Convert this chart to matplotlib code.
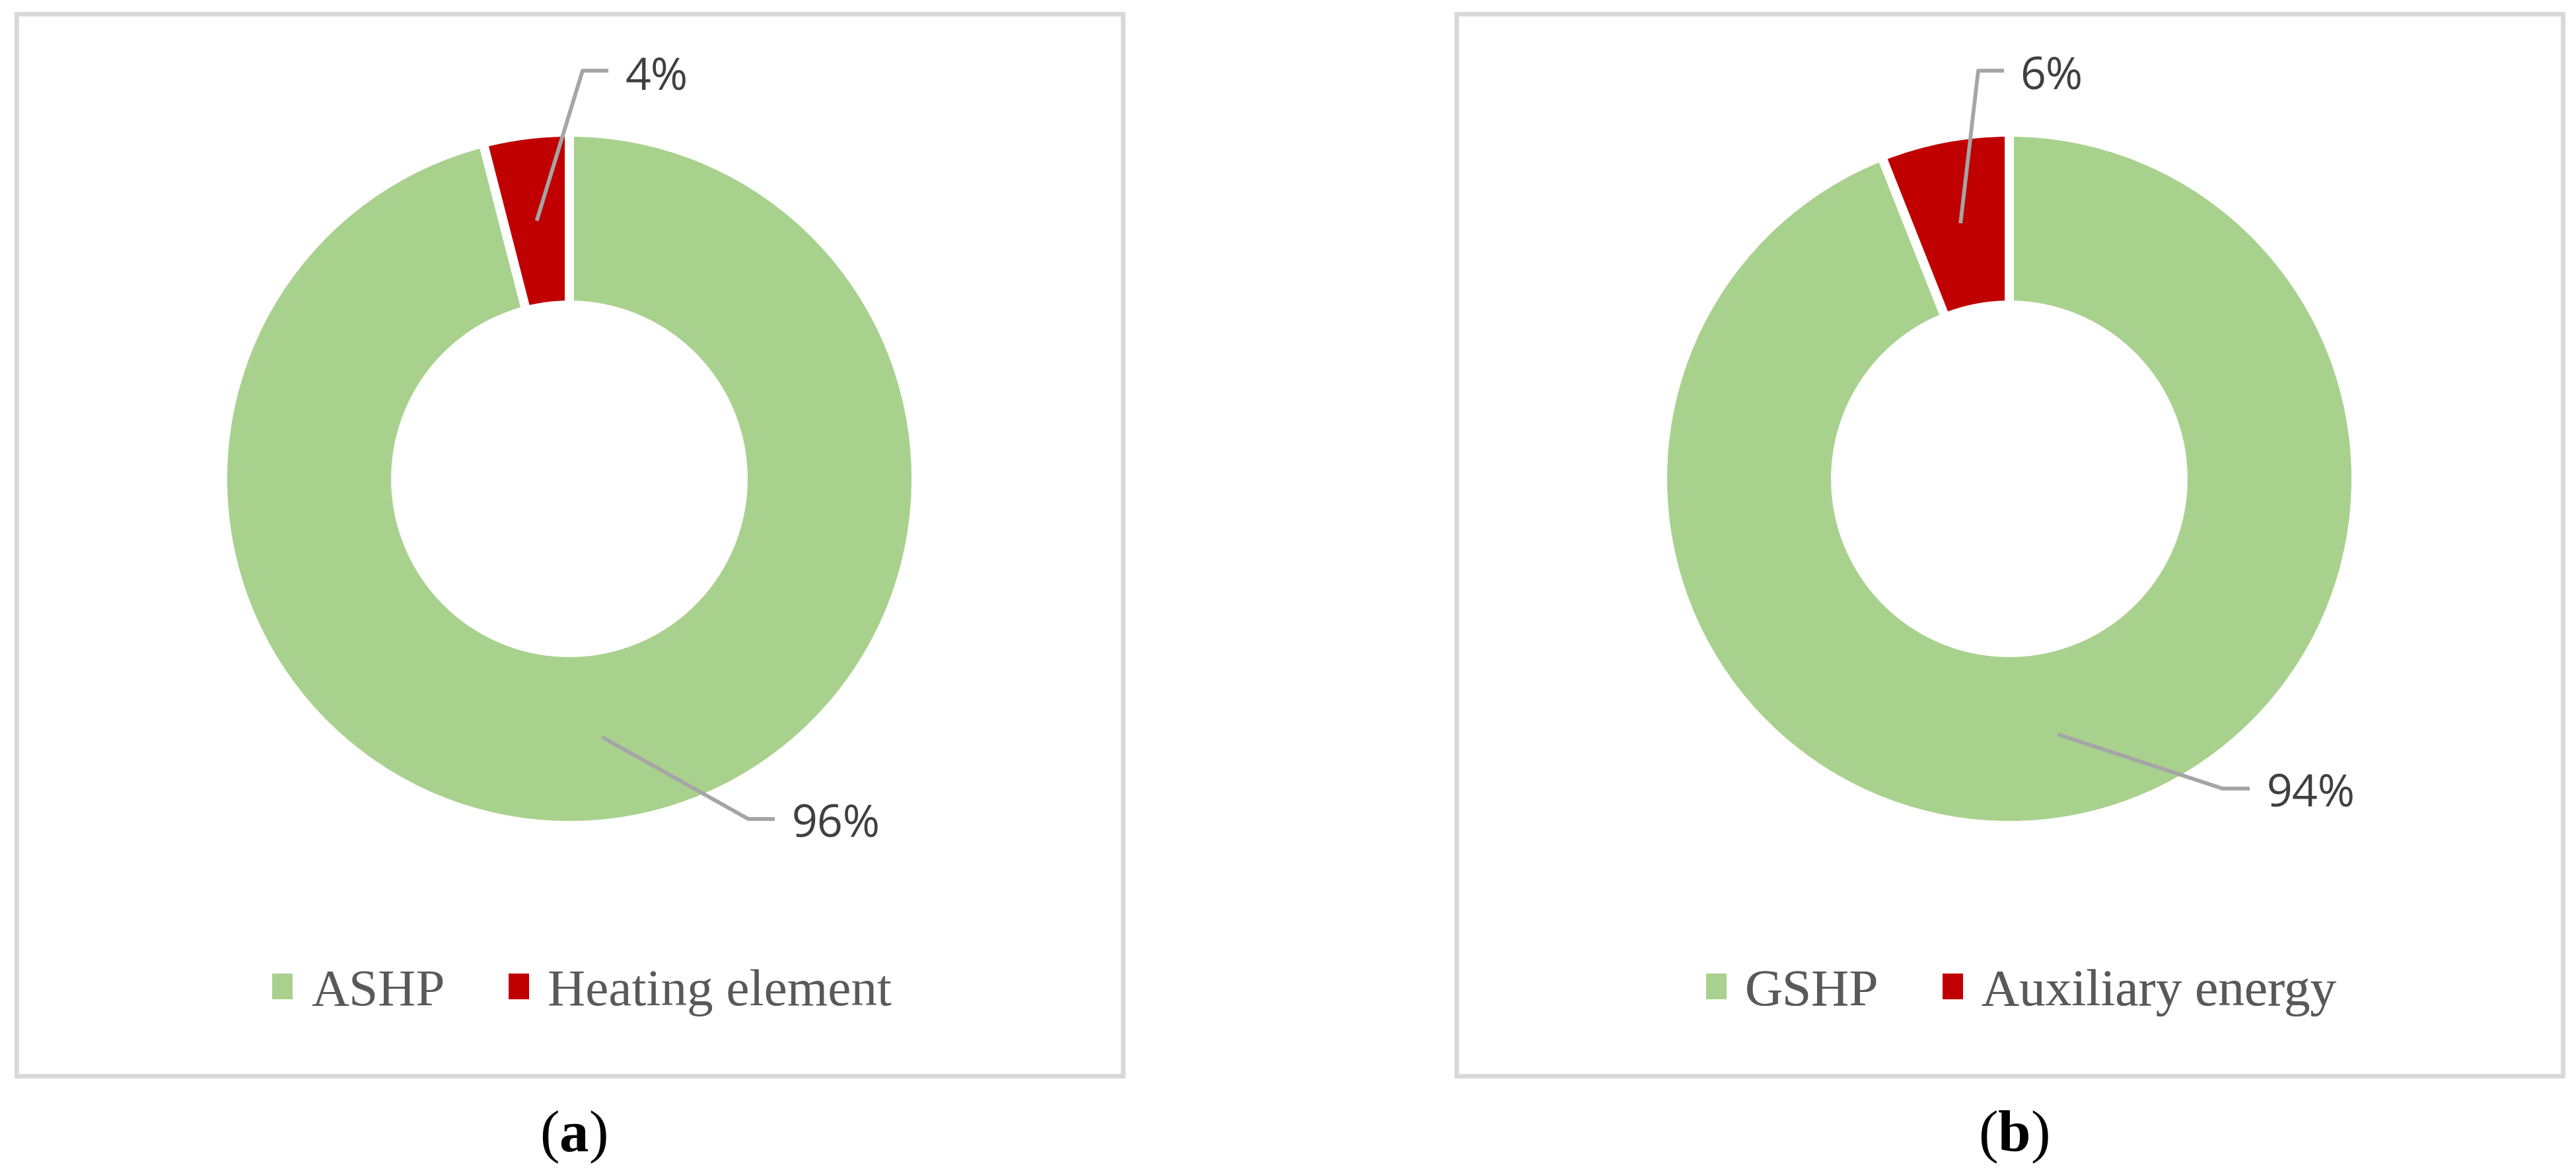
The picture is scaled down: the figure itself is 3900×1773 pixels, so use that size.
import numpy as np
import matplotlib
matplotlib.use("Agg")
import matplotlib.pyplot as plt
from matplotlib.patches import Rectangle, Patch

# shares in percent, as printed on the chart
shares_a = [96, 4]
names_a = ["ASHP", "Heating element"]
shares_b = [94, 6]
names_b = ["GSHP", "Auxiliary energy"]
captions = ["a", "b"]

GREEN = "#A9D18E"
RED = "#C00000"
LEADER = "#A5A5A5"
BORDER = "#D9D9D9"

W, H = 3900, 1773
CY = 725          # donut centre (pixels from top)
R = 525           # outer radius incl. white edge
RING = 262        # ring width
RMID = R - RING / 2

plt.rcParams["mathtext.fontset"] = "custom"
plt.rcParams["mathtext.rm"] = "Liberation Serif"
plt.rcParams["mathtext.bf"] = "Liberation Serif:bold"


def py(y):
    # pixel row (from top) -> data y
    return H - y


def draw_panel(ax, shares, names, caption, cx, box_left, spots, legend_cx):
    # panel frame
    ax.add_patch(Rectangle((box_left + 3.5, py(1628.5)), 1675, 1608,
                           facecolor="none", edgecolor=BORDER, lw=5, zorder=1))

    wedges, _ = ax.pie(shares, colors=[GREEN, RED], startangle=90,
                       counterclock=False, radius=R, center=(cx, py(CY)),
                       wedgeprops=dict(width=RING, edgecolor="white", linewidth=10),
                       frame=True)

    # data labels with leader lines
    for w, share, (bx, by, ex, tx, base) in zip(wedges, shares, spots):
        ang = np.deg2rad((w.theta1 + w.theta2) / 2)
        sx = cx + RMID * np.cos(ang)
        sy = py(CY) + RMID * np.sin(ang)
        ax.plot([sx, bx, ex], [sy, py(by), py(by)], color=LEADER, lw=4.2,
                solid_capstyle="butt", solid_joinstyle="round", zorder=5)
        ax.text(tx, py(base), f"{share}%", ha="left", va="baseline",
                fontsize=49, color="#404040", family="Open Sans", zorder=6)

    handles = [Patch(facecolor=c, edgecolor="none", label=n)
               for c, n in zip([GREEN, RED], names)]
    leg = ax.legend(handles=handles, loc="center",
                    bbox_to_anchor=(legend_cx, py(1503)), bbox_transform=ax.transData,
                    ncol=2, frameon=False, borderpad=0, borderaxespad=0,
                    prop=dict(family="Liberation Serif", size=57),
                    handlelength=0.39, handleheight=0.39, handletextpad=0.35,
                    columnspacing=1.22, labelcolor="#595959")
    ax.add_artist(leg)

    ax.text(cx + 6, py(1743), rf"($\mathbf{{{caption}}}$)", ha="center",
            va="baseline", fontsize=64, color="black", family="Liberation Serif")


fig = plt.figure(figsize=(W / 100, H / 100), dpi=100)
ax = fig.add_axes([0, 0, 1, 1])

# label spots: bend x, bend y, line end x, text x, text baseline (pixels)
spots_a = [(1133, 1240, 1173, 1199, 1267), (882, 107, 921, 947, 135)]
spots_b = [(3365, 1194, 3406, 3432, 1221), (2995, 107, 3034, 3058, 135)]

draw_panel(ax, shares_a, names_a, captions[0], 862, 21, spots_a, 881)
draw_panel(ax, shares_b, names_b, captions[1], 3042, 2201, spots_b, 3060)

ax.set_xlim(0, W)
ax.set_ylim(0, H)
ax.axis("off")

fig.savefig("out.png", dpi=100, facecolor="white")
